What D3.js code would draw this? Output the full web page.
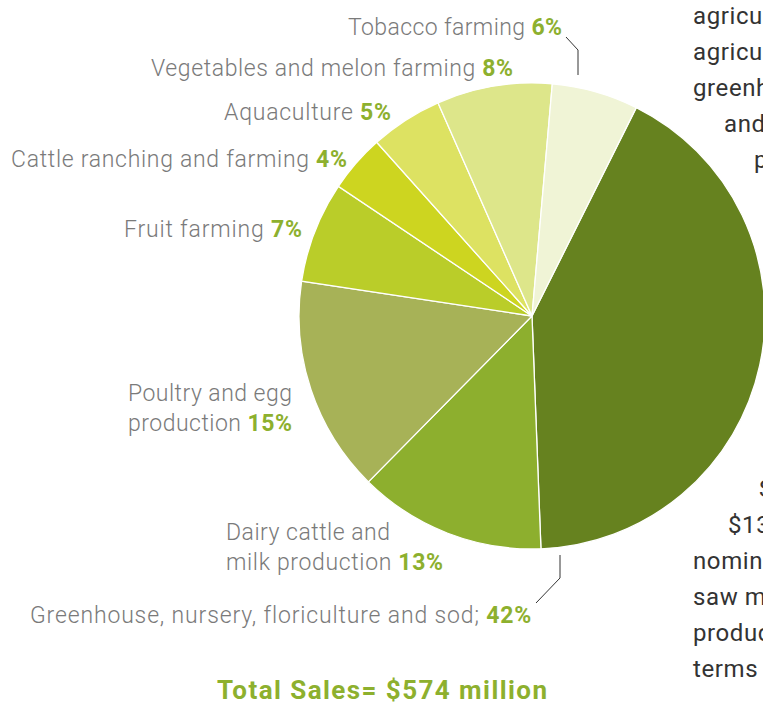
<!DOCTYPE html>
<html><head><meta charset="utf-8">
<script src="https://cdn.jsdelivr.net/npm/d3@7"></script>
<style>
html,body{margin:0;padding:0;background:#fff;overflow:hidden;}
svg{display:block;}
</style></head>
<body>
<svg id="chart" width="763" height="704"></svg>
<script>
// Data
const categories = ["Greenhouse, nursery, floriculture and sod", "Dairy cattle and milk production", "Poultry and egg production", "Fruit farming", "Cattle ranching and farming", "Aquaculture", "Vegetables and melon farming", "Tobacco farming"];
const shares = [42, 13, 15, 7, 4, 5, 8, 6];
const colors = ["#66821f", "#8daf2e", "#a7b257", "#bacd29", "#cdd520", "#dde262", "#dde68a", "#f0f4d6"];
const totalLabel = "Total Sales= $574 million";
const bodyTop = ["agricu", "agricu", "greenh", "and", "p"];
const bodyBottom = ["S", "$13", "nomin", "saw m", "produc", "terms"];

const svg = d3.select("#chart");
const cx = 532, cy = 316, R = 233;
const a0 = 26.6 * Math.PI / 180;

const pie = d3.pie().sort(null).value(d => d).startAngle(a0).endAngle(a0 + 2 * Math.PI);
const arc = d3.arc().innerRadius(0).outerRadius(R);
const g = svg.append("g").attr("transform", `translate(${cx},${cy})`);
g.selectAll("path").data(pie(shares)).join("path")
  .attr("d", arc)
  .attr("fill", (d, i) => colors[i])
  .attr("stroke", "#fff").attr("stroke-width", 1.3);

// fit a text element to span [x0, x0+w] via letter-spacing
function fit(t, x0, w) {
  t.attr("x", x0).attr("text-anchor", "start");
  const node = t.node();
  const nat = node.getComputedTextLength();
  const n = node.textContent.length;
  const ls = (w - nat) / Math.max(1, n - 1);
  t.attr("letter-spacing", ls);
}

// Labels (layout): x0 = left edge, w = width of each line
const labelFont = "Roboto, 'Noto Sans', sans-serif";
const labelLayout = [
  {i: 0, lines: ["Greenhouse, nursery, floriculture and sod; "], x0: [30], w: [501], y: 623},
  {i: 1, lines: ["Dairy cattle and", "milk production "], x0: [226, 226], w: [164, 217], y: 540},
  {i: 2, lines: ["Poultry and egg", "production "], x0: [128, 128], w: [164, 164], y: 401},
  {i: 3, lines: ["Fruit farming "], x0: [124], w: [178], y: 237},
  {i: 4, lines: ["Cattle ranching and farming "], x0: [11], w: [336], y: 167},
  {i: 5, lines: ["Aquaculture "], x0: [224], w: [167], y: 120},
  {i: 6, lines: ["Vegetables and melon farming "], x0: [151], w: [362], y: 76},
  {i: 7, lines: ["Tobacco farming "], x0: [348], w: [214], y: 35}
];
const lineH = 29.5;
labelLayout.forEach(L => {
  L.lines.forEach((ln, k) => {
    const t = svg.append("text")
      .attr("y", L.y + k * lineH)
      .attr("font-family", labelFont).attr("font-weight", 300)
      .attr("font-size", 23).attr("fill", "#7a7a7a")
      .style("white-space", "pre");
    t.append("tspan").text(ln);
    if (k === L.lines.length - 1) {
      t.append("tspan").attr("font-weight", 700).attr("fill", "#8db02e").text(shares[L.i] + "%");
    }
    fit(t, L.x0[k], L.w[k]);
  });
});

// Leader lines
const leader = d3.line();
svg.append("path").attr("d", leader([[566, 37], [578, 50], [578, 75]]))
  .attr("fill", "none").attr("stroke", "#333").attr("stroke-width", 1);
svg.append("path").attr("d", leader([[560, 555], [560, 578], [536, 603]]))
  .attr("fill", "none").attr("stroke", "#333").attr("stroke-width", 1);

// Total
const tt = svg.append("text").attr("y", 699)
  .attr("font-family", labelFont).attr("font-weight", 700).attr("font-size", 26)
  .attr("fill", "#8db02e").text(totalLabel);
fit(tt, 217, 330);

// Body text fragments on right
const bodyFont = "Roboto, 'Noto Sans', sans-serif";
const bodyTopX = [693, 693, 693, 724, 754];
bodyTop.forEach((s, k) => svg.append("text").attr("x", bodyTopX[k]).attr("y", 24 + k * 36)
  .attr("font-family", bodyFont).attr("font-size", 24).attr("letter-spacing", 0.6).attr("fill", "#333").text(s));
const bodyBotX = [759, 728, 693, 693, 693, 693];
bodyBottom.forEach((s, k) => svg.append("text").attr("x", bodyBotX[k]).attr("y", 497 + k * 36)
  .attr("font-family", bodyFont).attr("font-size", 24).attr("letter-spacing", 0.6).attr("fill", "#333").text(s));
</script>
</body></html>
